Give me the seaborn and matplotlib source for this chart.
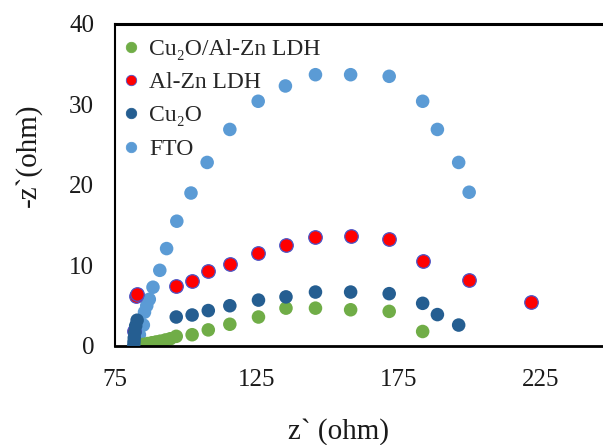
import matplotlib
matplotlib.use("Agg")
import matplotlib.pyplot as plt
from matplotlib.lines import Line2D
import seaborn as sns
import pandas as pd

# Nyquist data: z' (real) and -z'' (imaginary), ohm
fto_x = [82.6, 83.6, 85.0, 85.4, 86.2, 87.1, 88.4, 90.8, 93.2, 96.8, 101.8, 107.5,
         115.5, 125.5, 135.1, 145.7, 158.1, 171.7, 183.5, 188.7, 196.2, 199.9]
fto_y = [0.5, 1.4, 2.6, 4.2, 5.0, 5.8, 7.3, 9.4, 12.1, 15.5, 19.0, 22.8,
         26.9, 30.4, 32.3, 33.7, 33.7, 33.5, 30.4, 26.9, 22.8, 19.1]

alzn_x = [81.7, 82.3, 82.8, 96.6, 102.2, 107.9, 115.5, 125.6, 135.3, 145.7,
          158.1, 171.7, 183.5, 199.9, 221.7]
alzn_y = [1.8, 6.2, 6.5, 7.5, 8.1, 9.3, 10.2, 11.5, 12.5, 13.5,
          13.7, 13.3, 10.6, 8.2, 5.5]

cu2o_x = [81.6, 81.7, 81.8, 82.0, 82.3, 82.8, 96.6, 102.2, 107.9, 115.5,
          125.6, 135.3, 145.7, 158.1, 171.7, 183.5, 188.7, 196.2]
cu2o_y = [0.0, 0.5, 1.0, 1.7, 2.5, 3.2, 3.6, 3.85, 4.4, 5.0,
          5.7, 6.1, 6.7, 6.7, 6.5, 5.3, 3.9, 2.6]

comp_x = [82.0, 83.5, 85.0, 86.5, 88.0, 89.5, 91.0, 92.8, 94.5, 96.6,
          102.2, 107.9, 115.5, 125.6, 135.3, 145.7, 158.1, 171.7, 183.5]
comp_y = [0.0, 0.1, 0.2, 0.3, 0.4, 0.5, 0.6, 0.75, 0.9, 1.2,
          1.4, 2.0, 2.7, 3.6, 4.7, 4.7, 4.5, 4.3, 1.8]

labels = ["Cu\u2082O/Al-Zn LDH", "Al-Zn LDH", "Cu\u2082O", "FTO"]
colors = ["#70AD47", "#FF0000", "#255E91", "#5B9BD5"]
x_ticks = [75, 125, 175, 225]
y_ticks = [0, 10, 20, 30, 40]

sns.set_style("white")
serif = ["Liberation Serif", "DejaVu Serif"]
plt.rcParams["font.family"] = serif

fig = plt.figure(figsize=(6.03, 4.45), dpi=100)
ax = fig.add_axes([0.1907, 0.2225, 0.8093, 0.7236])

series = [
    (comp_x, comp_y, colors[0], "none", 0, 2),
    (alzn_x, alzn_y, colors[1], "#4A55C8", 0.9, 3),
    (cu2o_x, cu2o_y, colors[2], "none", 0, 4),
    (fto_x, fto_y, colors[3], "none", 0, 1),
]
for xs, ys, c, ec, lw, z in series:
    df = pd.DataFrame({"x": xs, "y": ys})
    sns.scatterplot(data=df, x="x", y="y", ax=ax, color=c, s=95,
                    edgecolor=ec, linewidth=lw, zorder=z, legend=False)

ax.set_xlim(75, 247.1)
ax.set_ylim(0, 40)
ax.set_xticks(x_ticks)
ax.set_yticks(y_ticks)
ax.tick_params(axis="x", direction="out", length=5.8, width=1.2,
               labelsize=18, colors="#1a1a1a", pad=10.5)
ax.tick_params(axis="y", direction="out", length=3.6, width=1.2,
               labelsize=18, colors="#1a1a1a", pad=11.5)
for name in ["left", "bottom", "top"]:
    ax.spines[name].set_color("black")
ax.spines["left"].set_linewidth(1.5)
ax.spines["bottom"].set_linewidth(2.0)
ax.spines["top"].set_linewidth(2.2)
ax.spines["right"].set_visible(False)

ax.set_xlabel("z` (ohm)", fontsize=21, color="#1a1a1a")
ax.set_ylabel("-z`(ohm)", fontsize=21, color="#1a1a1a")
ax.xaxis.set_label_coords(0.459, -0.225)
ax.yaxis.set_label_coords(-0.15, 0.593)

handles = [Line2D([], [], marker="o", linestyle="none", markersize=7.5,
                  markerfacecolor=c,
                  markeredgecolor=("#4A55C8" if c == "#FF0000" else c),
                  markeredgewidth=0.6)
           for c in colors]
ax.legend(handles, labels, loc="upper left", frameon=False, fontsize=17,
          handlelength=0.6, handletextpad=0.5, labelspacing=0.5,
          borderaxespad=0.0, bbox_to_anchor=(-0.002, 0.985))

fig.savefig("out.png", dpi=100)
